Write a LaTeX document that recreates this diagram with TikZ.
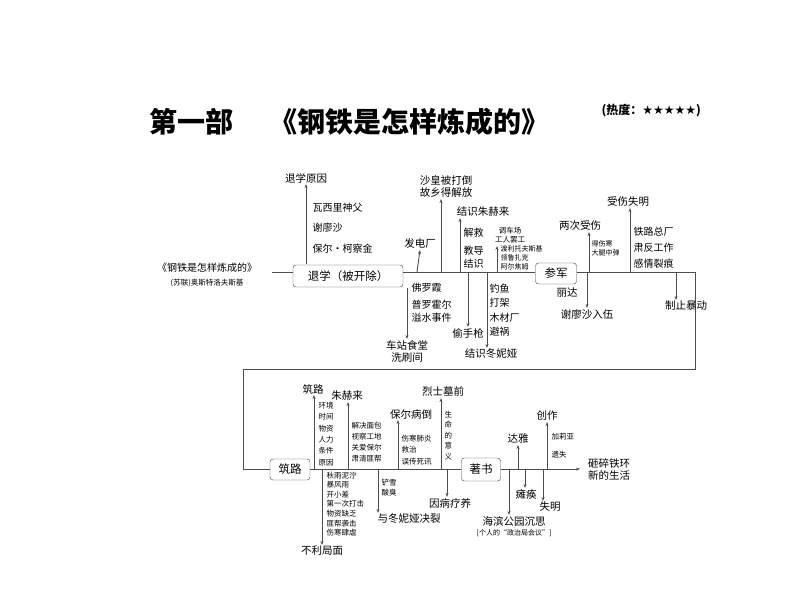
\documentclass[tikz,border=0pt]{standalone}
\usepackage{fontspec}
\setmainfont{Noto Sans CJK SC}
\newfontfamily\symf{DejaVu Sans}
\usetikzlibrary{arrows.meta}
\tikzset{
  lbl/.style={inner sep=1pt,font=\fontsize{10.5}{12}\selectfont,align=center},
  sml/.style={inner sep=0.5pt,font=\fontsize{7.5}{9}\selectfont,align=left,anchor=west},
  txt/.style={inner sep=0.5pt,font=\fontsize{10}{11}\selectfont,align=left,anchor=west},
  box/.style={draw=black!75,rounded corners=3pt,font=\fontsize{11.5}{12}\selectfont,inner xsep=6pt,minimum height=22pt},
  mline/.style={draw=black!70,line width=0.9pt},
  arr/.style={draw=black!70,line width=0.9pt,-{Stealth[length=4pt,width=3pt]}}
}
\begin{document}
\begin{tikzpicture}[x=1pt,y=-1pt]
\useasboundingbox (0,0) rectangle (794,596);
% title
\node[font=\fontsize{28}{30}\selectfont\bfseries] (t1) at (191,122) {第一部};
\node[font=\fontsize{28}{30}\selectfont\bfseries,anchor=west] (t2) at (266,122) {《钢铁是怎样炼成的》};
\node[font=\fontsize{12}{13}\selectfont\bfseries,anchor=west] (t3) at (598,111) {(热度：{\symf ★★★★★})};
% book
\node[font=\fontsize{10}{11}\selectfont] (bk) at (207,268) {《钢铁是怎样炼成的》};
\node[font=\fontsize{7.5}{9}\selectfont] (au) at (207,283) {(苏联)奥斯特洛夫斯基};
% top main line
\node[box,minimum width=110pt] (b1) at (348,276) {退学（被开除）};
\node[box,minimum width=41pt,minimum height=21pt] (b2) at (556,273.5) {参军};
\coordinate (s0) at (272,272);
\coordinate (c1) at (695,272);
\coordinate (c2) at (695,369);
\coordinate (c3) at (243,369);
\coordinate (c4) at (243,469);
\draw[mline] (s0) -- (b1.west |- s0);
\draw[mline] (b1.east |- s0) -- (b2.west |- s0);
\draw[mline] (b2.east |- s0) -- (c1) -- (c2) -- (c3) -- (c4);
% top branches
\coordinate (p1) at (306,264);
\node[lbl] (l1) at (306,178) {退学原因};
\draw[arr] (p1) -- (l1.south);
\node[txt] (q1) at (312,208) {瓦西里神父};
\node[txt] (q2) at (312,228) {谢廖沙};
\node[txt] (q3) at (312,249) {保尔·柯察金};
\coordinate (p2) at (417,272);
\node[lbl] (l2) at (420,244) {发电厂};
\draw[arr] (p2) -- (l2.south);
\coordinate (p3) at (407,288);
\node[lbl] (l3) at (407,351) {车站食堂\\洗刷间};
\draw[arr] (p3) -- (l3.north);
\node[txt] (q4) at (411,288) {佛罗霞};
\node[txt,font=\fontsize{10}{13}\selectfont] (q5) at (411,311) {普罗霍尔\\溢水事件};
\coordinate (p4) at (441,272);
\node[lbl] (l4) at (446,187) {沙皇被打倒\\故乡得解放};
\draw[arr] (p4) -- (l4.south -| p4);
\coordinate (p5) at (460,272);
\node[lbl] (l5) at (483,212) {结识朱赫来};
\draw[arr] (p5) -- (l5.south -| p5);
\node[txt] (q6) at (463,233) {解救};
\node[txt,font=\fontsize{10}{13}\selectfont] (q7) at (463,257) {教导\\结识};
\coordinate (p6) at (468,272);
\node[lbl] (l6) at (468,333) {偷手枪};
\draw[arr] (p6) -- (l6.north -| p6);
\coordinate (p7) at (487,272);
\node[lbl] (l7) at (491,354) {结识冬妮娅};
\draw[arr] (p7) -- (l7.north -| p7);
\node[txt,font=\fontsize{10}{14.5}\selectfont] (q8) at (489,310) {钓鱼\\打架\\木材厂\\避祸};
\coordinate (p8) at (497,272);
\coordinate (e8) at (497,246);
\draw[arr,line width=0.6pt] (p8) -- (e8);
\node[sml,align=center,anchor=center] (q9) at (510,235) {调车场\\工人罢工};
\node[sml,font=\fontsize{7}{9}\selectfont] (q10) at (500,258) {渡利托夫斯基\\领鲁扎克\\阿尔焦姆};
\coordinate (p9) at (589,272);
\node[lbl] (l9) at (580,226) {两次受伤};
\draw[arr] (p9) -- (l9.south -| p9);
\node[sml,font=\fontsize{7}{9}\selectfont] (q11) at (591,248) {得伤寒\\大腿中弹};
\coordinate (p10) at (587,272);
\node[lbl] (l10) at (587,314) {谢廖沙入伍};
\draw[arr] (p10) -- (l10.north -| p10);
\node[lbl] (q12) at (567,293) {丽达};
\coordinate (p11) at (630,272);
\node[lbl] (l11) at (628,202) {受伤失明};
\draw[arr] (p11) -- (l11.south -| p11);
\node[txt,font=\fontsize{10}{16}\selectfont] (q13) at (633,248) {铁路总厂\\肃反工作\\感情裂痕};
\coordinate (p12) at (676,272);
\node[lbl] (l12) at (686,306) {制止暴动};
\draw[arr] (p12) -- (l12.north -| p12);
% bottom main line
\node[box,minimum width=40pt,minimum height=21pt] (b3) at (290,469.5) {筑路};
\node[box,minimum width=39pt,minimum height=23pt] (b4) at (481,469.5) {著书};
\coordinate (end) at (580,469);
\draw[mline] (c4) -- (b3.west |- c4);
\draw[mline] (b3.east |- c4) -- (b4.west |- c4);
\draw[arr] (b4.east |- c4) -- (end);
\node[lbl,anchor=west] (lend) at (587,469) {砸碎铁环\\新的生活};
% bottom branches
\coordinate (r1) at (314,469);
\node[lbl] (m1) at (313,389) {筑路};
\draw[arr] (r1) -- (m1.south -| r1);
\node[sml,font=\fontsize{7.5}{11.3}\selectfont] (n1) at (318,434) {环境\\时间\\物资\\人力\\条件\\原因};
\coordinate (r2) at (348,469);
\node[lbl] (m2) at (347,396) {朱赫来};
\draw[arr] (r2) -- (m2.south -| r2);
\node[sml,font=\fontsize{7.5}{11}\selectfont] (n2) at (351,442) {解决面包\\视察工地\\关爱保尔\\肃清匪帮};
\coordinate (r3) at (322,469);
\node[lbl] (m3) at (322,551) {不利局面};
\draw[arr] (r3) -- (m3.north -| r3);
\node[sml,font=\fontsize{7.5}{9.6}\selectfont] (n3) at (326,504) {秋雨泥泞\\暴风雨\\开小差\\第一次打击\\物资缺乏\\匪帮袭击\\伤寒肆虐};
\coordinate (r4) at (378,469);
\node[lbl] (m4) at (409,519) {与冬妮娅决裂};
\draw[arr] (r4) -- (m4.north -| r4);
\node[sml,font=\fontsize{7.5}{10}\selectfont] (n4) at (381,488) {铲雪\\酸臭};
\coordinate (r5) at (398,469);
\node[lbl] (m5) at (411,414) {保尔病倒};
\draw[arr] (r5) -- (m5.south -| r5);
\node[sml,font=\fontsize{7.5}{11.5}\selectfont] (n5) at (401,450) {伤寒肺炎\\救治\\误传死讯};
\coordinate (r6) at (441,469);
\node[lbl] (m6) at (443,392) {烈士墓前};
\draw[arr] (r6) -- (m6.south -| r6);
\node[sml,font=\fontsize{7.5}{10.5}\selectfont,anchor=north west] (n6) at (444,410) {生\\命\\的\\意\\义};
\coordinate (r7) at (447,469);
\node[lbl] (m7) at (450,503) {因病疗养};
\draw[arr] (r7) -- (m7.north -| r7);
\coordinate (r8) at (509,469);
\node[lbl] (m8) at (514,521) {海滨公园沉思};
\node[sml,anchor=center,font=\fontsize{7}{8}\selectfont] (m8b) at (514,533) {[个人的“政治局会议”]};
\draw[arr] (r8) -- (m8.north -| r8);
\coordinate (r9) at (518,469);
\node[lbl] (m9) at (518,439) {达雅};
\draw[arr] (r9) -- (m9.south -| r9);
\coordinate (r10) at (525,469);
\node[lbl] (m10) at (526,494) {瘫痪};
\draw[arr] (r10) -- (m10.north -| r10);
\coordinate (r11) at (547,469);
\node[lbl] (m11) at (547,416) {创作};
\draw[arr] (r11) -- (m11.south -| r11);
\node[sml,font=\fontsize{7.5}{9}\selectfont] (n11) at (551,437) {加莉亚};
\node[sml,font=\fontsize{7.5}{9}\selectfont] (n12) at (551,455) {遗失};
\coordinate (r12) at (543,469);
\node[lbl] (m12) at (550,507) {失明};
\draw[arr] (r12) -- (m12.north -| r12);
\end{tikzpicture}
\end{document}
